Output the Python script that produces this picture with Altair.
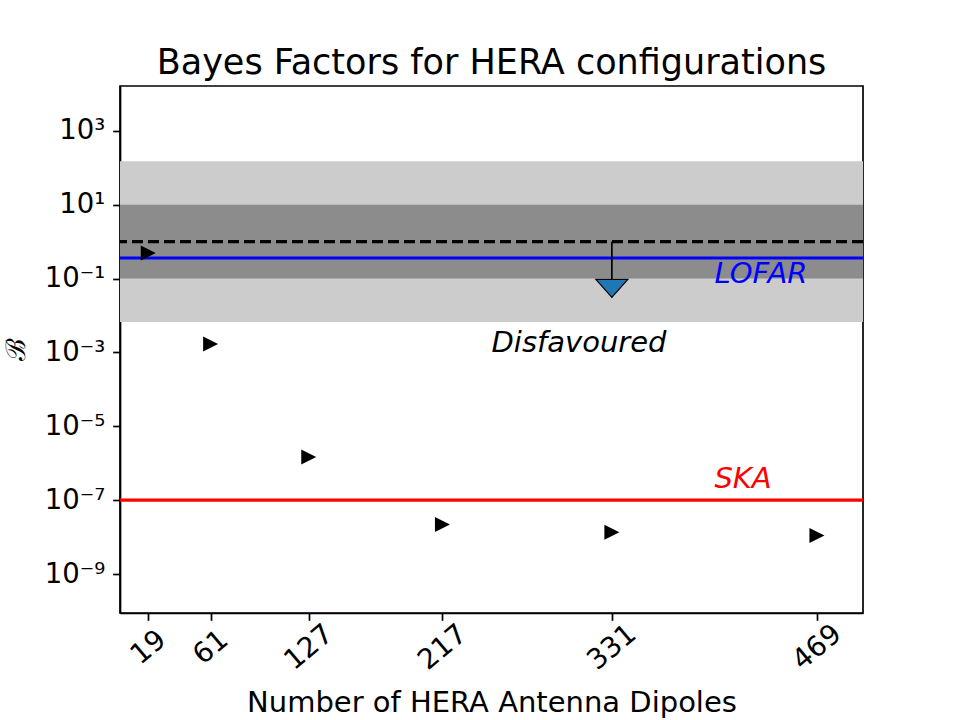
import altair as alt
import pandas as pd

# ---- data ----
DIPOLES = [19, 61, 127, 217, 331, 469]
BAYES = [0.49, 1.7e-3, 1.48e-6, 2.2e-8, 1.35e-8, 1.1e-8]

LIMIT_X = [331]
LIMIT_FROM = [1.0]
LIMIT_TO = [0.031]

BAND_NAMES = ["light", "dark"]
BAND_LO = [1 / 150, 0.1]
BAND_HI = [150, 10]
BAND_COLORS = ["#cccccc", "#8c8c8c"]

DASHED_LEVEL = [1.0]
LOFAR_LEVEL = [0.36]
SKA_LEVEL = [1e-7]

LABEL_TEXT = ["LOFAR", "Disfavoured", "SKA"]
LABEL_X = [400, 250, 400]
LABEL_Y = [0.078, 1.06e-3, 2.2e-7]
LABEL_COLOR = ["#0000ff", "#000000", "#ff0000"]

X_DOMAIN = [0, 500]
Y_DOMAIN = [8.8e-11, 1.64e4]
Y_EXPONENTS = [3, 1, -1, -3, -5, -7, -9]
Y_TICK_LABELS = ["10³", "10¹", "10⁻¹", "10⁻³", "10⁻⁵", "10⁻⁷", "10⁻⁹"]
Y_TICKS = [10.0 ** e for e in Y_EXPONENTS]

FONT = "DejaVu Sans"

label_expr = "''"
for e, lab in zip(reversed(Y_EXPONENTS), reversed(Y_TICK_LABELS)):
    label_expr = f"round(log(datum.value)/LN10) == {e} ? '{lab}' : ({label_expr})"

xs = alt.Scale(domain=X_DOMAIN, nice=False, zero=False)
ys = alt.Scale(type="log", domain=Y_DOMAIN, nice=False)

x_axis = alt.Axis(
    values=DIPOLES, labelAngle=320, labelAlign="center", labelBaseline="middle",
    labelPadding=27, labelFlush=False, labelOverlap=False, labelFontSize=28,
    title="Number of HERA Antenna Dipoles", titleY=98, titleBaseline="alphabetic",
    grid=False,
)
y_axis = alt.Axis(
    values=Y_TICKS, labelExpr=label_expr, labelPadding=8, labelOverlap=False,
    labelFlush=False, labelFontSize=27.5, title="ℬ", titleAngle=270, titleX=-104,
    titleY=263, titleAlign="center", titleBaseline="middle", titleFont="DejaVu Serif",
    titleFontSize=27, grid=False,
)

bands_df = pd.DataFrame({
    "shade": BAND_NAMES, "lo": BAND_LO, "hi": BAND_HI,
    "x0": [X_DOMAIN[0]] * 2, "x1": [X_DOMAIN[1]] * 2,
})
bands = alt.Chart(bands_df).mark_rect().encode(
    x=alt.X("x0:Q", scale=xs, axis=x_axis),
    x2="x1:Q",
    y=alt.Y("lo:Q", scale=ys, axis=y_axis),
    y2="hi:Q",
    color=alt.Color("shade:N", scale=alt.Scale(domain=BAND_NAMES, range=BAND_COLORS), legend=None),
)

dashed = alt.Chart(pd.DataFrame({"v": DASHED_LEVEL})).mark_rule(
    color="black", strokeWidth=3.1, strokeDash=[11, 5]
).encode(y=alt.Y("v:Q", scale=ys))

lofar = alt.Chart(pd.DataFrame({"v": LOFAR_LEVEL})).mark_rule(
    color="#0000ff", strokeWidth=3.1
).encode(y=alt.Y("v:Q", scale=ys))

ska = alt.Chart(pd.DataFrame({"v": SKA_LEVEL})).mark_rule(
    color="#ff0000", strokeWidth=3.1
).encode(y=alt.Y("v:Q", scale=ys))

limit_df = pd.DataFrame({"x": LIMIT_X, "y0": LIMIT_FROM, "y1": LIMIT_TO})
limit_line = alt.Chart(limit_df).mark_rule(color="black", strokeWidth=1.7).encode(
    x=alt.X("x:Q", scale=xs), y=alt.Y("y0:Q", scale=ys), y2="y1:Q"
)
limit_head = alt.Chart(limit_df).mark_point(
    shape="M-1,-1.125L1,-1.125L0,0Z", size=1024, filled=True,
    fill="#1f77b4", stroke="black", strokeWidth=1.2, opacity=1,
).encode(x=alt.X("x:Q", scale=xs), y=alt.Y("y1:Q", scale=ys))

pts = alt.Chart(pd.DataFrame({"n": DIPOLES, "b": BAYES})).mark_point(
    shape="M-1,-1L1,0L-1,1Z", size=225, filled=True, color="black", opacity=1
).encode(x=alt.X("n:Q", scale=xs), y=alt.Y("b:Q", scale=ys))

labels = alt.Chart(pd.DataFrame({
    "t": LABEL_TEXT, "x": LABEL_X, "y": LABEL_Y, "c": LABEL_COLOR
})).mark_text(
    align="left", baseline="alphabetic", fontStyle="italic", fontSize=29, font=FONT
).encode(
    x=alt.X("x:Q", scale=xs), y=alt.Y("y:Q", scale=ys),
    text="t:N", color=alt.Color("c:N", scale=None),
)

chart = alt.layer(
    bands, dashed, lofar, ska, limit_line, limit_head, pts, labels
).properties(
    width=743, height=527,
    autosize="none",
    padding={"left": 120, "top": 86, "right": 97, "bottom": 107},
    background="white",
    title=alt.TitleParams(
        "Bayes Factors for HERA configurations", font=FONT, fontSize=35,
        fontWeight="normal", offset=12.5, dy=35, baseline="alphabetic", color="black",
    ),
).configure_view(
    stroke="black", strokeWidth=1.7
).configure_axis(
    domainColor="black", domainWidth=1.7, tickColor="black", tickWidth=1.7,
    tickSize=7.3, labelColor="black", labelFont=FONT,
    titleColor="black", titleFont=FONT, titleFontSize=29, titleFontWeight="normal",
)

chart.save("out.html", embed_options={"renderer": "svg", "actions": False})
